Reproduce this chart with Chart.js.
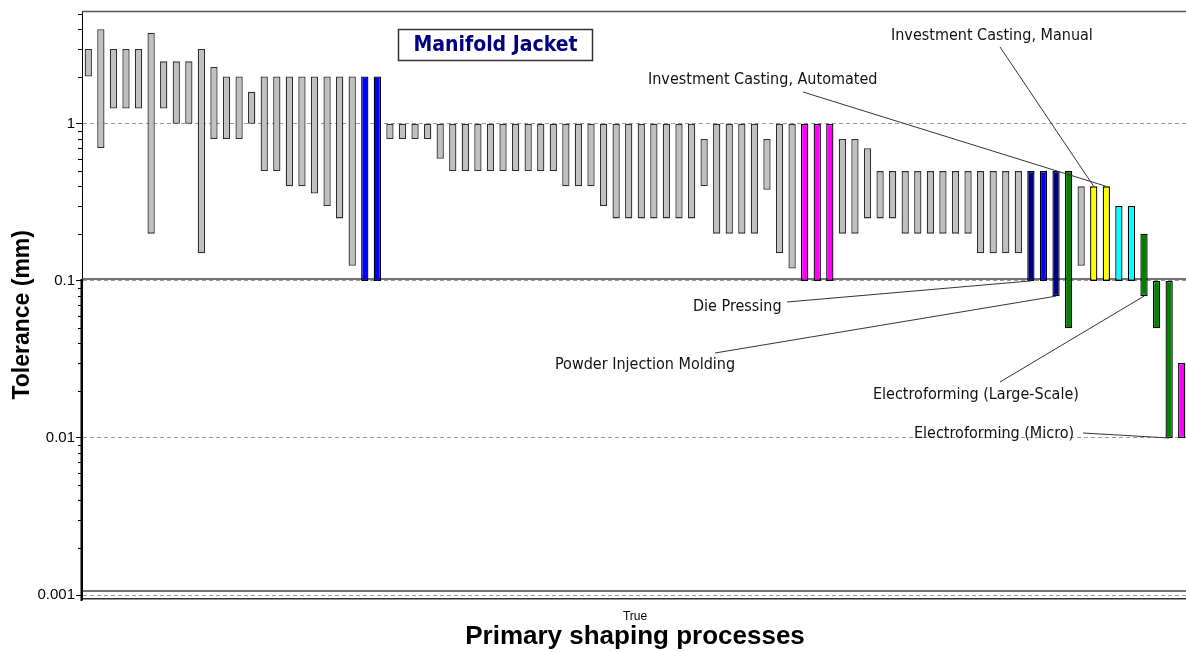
<!DOCTYPE html>
<html><head><meta charset="utf-8">
<script src="https://cdn.jsdelivr.net/npm/chart.js@4/dist/chart.umd.min.js"></script>
<style>
html,body{margin:0;padding:0;background:#fff;overflow:hidden;}
#wrap{position:relative;width:1190px;height:652px;}
</style></head><body>
<div id="wrap"><canvas id="c"></canvas></div>
<script>
// ---- data (tolerance ranges in mm, one bar per process) ----
const lows = [2,0.7,1.25,1.25,1.25,0.2,1.25,1,1,0.15,0.8,0.8,0.8,1,0.5,0.5,0.4,0.4,0.36,0.3,0.25,0.125,0.1,0.1,
  0.8,0.8,0.8,0.8,0.6,0.5,0.5,0.5,0.5,0.5,0.5,0.5,0.5,0.5,0.4,0.4,0.4,0.3,0.25,0.25,0.25,0.25,0.25,0.25,0.25,0.4,
  0.2,0.2,0.2,0.2,0.38,0.15,0.12,0.1,0.1,0.1,0.2,0.2,0.25,0.25,0.25,0.2,0.2,0.2,0.2,0.2,0.2,0.15,0.15,0.15,0.15,
  0.1,0.1,0.08,0.05,0.125,0.1,0.1,0.1,0.1,0.08,0.05,0.01,0.01];
const highs = [3,4,3,3,3,3.8,2.5,2.5,2.5,3,2.3,2,2,1.6,2,2,2,2,2,2,2,2,2,2,
  1,1,1,1,1,1,1,1,1,1,1,1,1,1,1,1,1,1,1,1,1,1,1,1,1,0.8,
  1,1,1,1,0.8,1,1,1,1,1,0.8,0.8,0.7,0.5,0.5,0.5,0.5,0.5,0.5,0.5,0.5,0.5,0.5,0.5,0.5,
  0.5,0.5,0.5,0.5,0.4,0.4,0.4,0.3,0.3,0.2,0.1,0.1,0.03];
const barGroups = [
  'g','g','g','g','g','g','g','g','g','g','g','g','g','g','g','g','g','g','g','g','g','g','b','b',
  'g','g','g','g','g','g','g','g','g','g','g','g','g','g','g','g','g','g','g','g','g','g','g','g','g','g',
  'g','g','g','g','g','g','g','m','m','m','g','g','g','g','g','g','g','g','g','g','g','g','g','g','g',
  'n','b','n','G','g','y','y','c','c','G','G','G','m'];
const processes = lows.map((_, i) => 'Process ' + (i + 1));
const majorTicks = [0.001, 0.01, 0.1, 1];
const majorLabels = ['0.001', '0.01', '0.1', '1'];
const minorSteps = [2, 3, 4, 5, 6, 7, 8, 9];
const refLines = [0.103, 0.00106];
const chartTitle = 'Manifold Jacket';
const xTickLabels = ['True'];
const annotations = [
  {text: 'Investment Casting, Manual',     bar: 80, end: 'high', tx: 891, ty: 36,  sx: 1000, sy: 47},
  {text: 'Investment Casting, Automated',  bar: 81, end: 'high', tx: 648, ty: 80,  sx: 803,  sy: 92},
  {text: 'Die Pressing',                   bar: 75, end: 'low',  tx: 693, ty: 307, sx: 787,  sy: 302},
  {text: 'Powder Injection Molding',       bar: 77, end: 'low',  tx: 555, ty: 365, sx: 715,  sy: 353},
  {text: 'Electroforming (Large-Scale)',   bar: 84, end: 'low',  tx: 873, ty: 395, sx: 1000, sy: 382},
  {text: 'Electroforming (Micro)',         bar: 86, end: 'low',  tx: 914, ty: 434, sx: 1083, sy: 433}
];

// ---- styles ----
const fillOf = {g:'#c0c0c0', b:'#0000ff', n:'#000080', m:'#ff00ff', G:'#008000', y:'#ffff00', c:'#00ffff'};
const borderOf = {g:'#2e2e2e', b:'#000', n:'#000', m:'#000', G:'#000', y:'#000', c:'#000'};

const tickValues = [];
majorTicks.forEach(m => { tickValues.push(m); minorSteps.forEach(s => { if (m * s <= 5.05) tickValues.push(+(m * s).toPrecision(6)); }); });
const isMajor = v => Math.abs(Math.log10(v) - Math.round(Math.log10(v))) < 1e-9;

function line(ctx, x1, y1, x2, y2) { ctx.beginPath(); ctx.moveTo(x1, y1); ctx.lineTo(x2, y2); ctx.stroke(); }

const deco = {
  id: 'deco',
  beforeDatasetsDraw(chart) {
    const {ctx, chartArea: a, scales: {y}} = chart;
    ctx.save();
    ctx.strokeStyle = '#444'; ctx.lineWidth = 1.5;
    refLines.forEach(v => { const py = y.getPixelForValue(v); line(ctx, a.left, py, a.right, py); });
    ctx.strokeStyle = '#555'; ctx.lineWidth = 1.5;
    line(ctx, a.left, a.top, a.right, a.top);
    ctx.restore();
  },
  afterDraw(chart) {
    const {ctx, chartArea: a, scales: {y}} = chart;
    const meta = chart.getDatasetMeta(0);
    ctx.save();
    // minor ticks
    ctx.strokeStyle = '#000'; ctx.lineWidth = 1;
    tickValues.filter(v => !isMajor(v)).forEach(v => {
      const py = Math.round(y.getPixelForValue(v)) + 0.5; line(ctx, a.left - 4, py, a.left, py);
    });
    // heavier axis segment below the reference line
    ctx.lineWidth = 2;
    line(ctx, a.left - 0.5, y.getPixelForValue(refLines[0]), a.left - 0.5, a.bottom + 2);
    // leader lines + labels
    ctx.strokeStyle = '#333'; ctx.lineWidth = 1;
    ctx.font = '16px "DejaVu Sans Condensed", "DejaVu Sans", sans-serif';
    ctx.fillStyle = '#111'; ctx.textAlign = 'left'; ctx.textBaseline = 'middle';
    annotations.forEach(an => {
      const el = meta.data[an.bar];
      const v = an.end === 'high' ? highs[an.bar] : lows[an.bar];
      line(ctx, an.sx, an.sy, el.x, y.getPixelForValue(v));
      ctx.fillText(an.text, an.tx, an.ty);
    });
    // title box
    ctx.fillStyle = '#fff'; ctx.fillRect(398.5, 29.5, 194, 31);
    ctx.strokeStyle = '#333'; ctx.lineWidth = 1.5; ctx.strokeRect(398.5, 29.5, 194, 31);
    ctx.fillStyle = '#000080'; ctx.textAlign = 'center';
    ctx.font = 'bold 21px "DejaVu Sans Condensed", "DejaVu Sans", sans-serif';
    ctx.fillText(chartTitle, 495.5, 45.5);
    ctx.restore();
  }
};

new Chart(document.getElementById('c'), {
  type: 'bar',
  data: {
    labels: processes,
    datasets: [{
      data: lows.map((l, i) => [l, highs[i]]),
      backgroundColor: barGroups.map(k => fillOf[k]),
      borderColor: barGroups.map(k => borderOf[k]),
      borderWidth: 1.3,
      borderSkipped: false,
      barPercentage: 0.58,
      categoryPercentage: 1
    }]
  },
  options: {
    responsive: true,
    maintainAspectRatio: false,
    animation: false,
    layout: {padding: {top: 11.5, right: 2, left: 0, bottom: 0}},
    plugins: {legend: {display: false}, tooltip: {enabled: false}},
    scales: {
      x: {
        type: 'category', position: 'bottom', weight: 0,
        grid: {display: false},
        ticks: {display: false},
        border: {display: true, color: '#333', width: 1.5},
        afterFit: s => { s.height = 0; }
      },
      x2: {
        type: 'category', position: 'bottom', weight: 1, labels: xTickLabels, offset: true,
        grid: {display: false},
        border: {display: false},
        ticks: {color: '#000', font: {family: 'Liberation Sans', size: 12}, padding: 2},
        title: {display: true, text: 'Primary shaping processes', color: '#000',
          font: {family: 'Liberation Sans', size: 26, weight: 'bold'}, padding: {top: 0, bottom: 0}},
        afterFit: s => { s.height = 53; }
      },
      y: {
        type: 'logarithmic', position: 'left', min: 0.000944, max: 5.19,
        afterBuildTicks: s => { s.ticks = tickValues.map(v => ({value: v, major: isMajor(v)})); },
        afterFit: s => { s.width = 82; },
        ticks: {
          autoSkip: false, color: '#000', padding: 1,
          font: {family: 'Liberation Sans', size: 15},
          callback: v => { const i = majorTicks.findIndex(m => Math.abs(m - v) < m * 1e-6); return i >= 0 ? majorLabels[i] : ''; }
        },
        grid: {
          color: c => (c.tick && isMajor(c.tick.value)) ? '#9a9a9a' : 'rgba(0,0,0,0)',
          tickColor: c => (c.tick && isMajor(c.tick.value)) ? '#000' : 'rgba(0,0,0,0)',
          tickLength: 6, lineWidth: 1
        },
        border: {display: true, color: '#000', width: 1, dash: [4, 3]},
        title: {display: true, text: 'Tolerance (mm)   ', color: '#000',
          font: {family: 'Liberation Sans', size: 23, weight: 'bold'}, padding: {top: 9, bottom: 0}}
      }
    }
  },
  plugins: [deco]
});
</script>
</body></html>
